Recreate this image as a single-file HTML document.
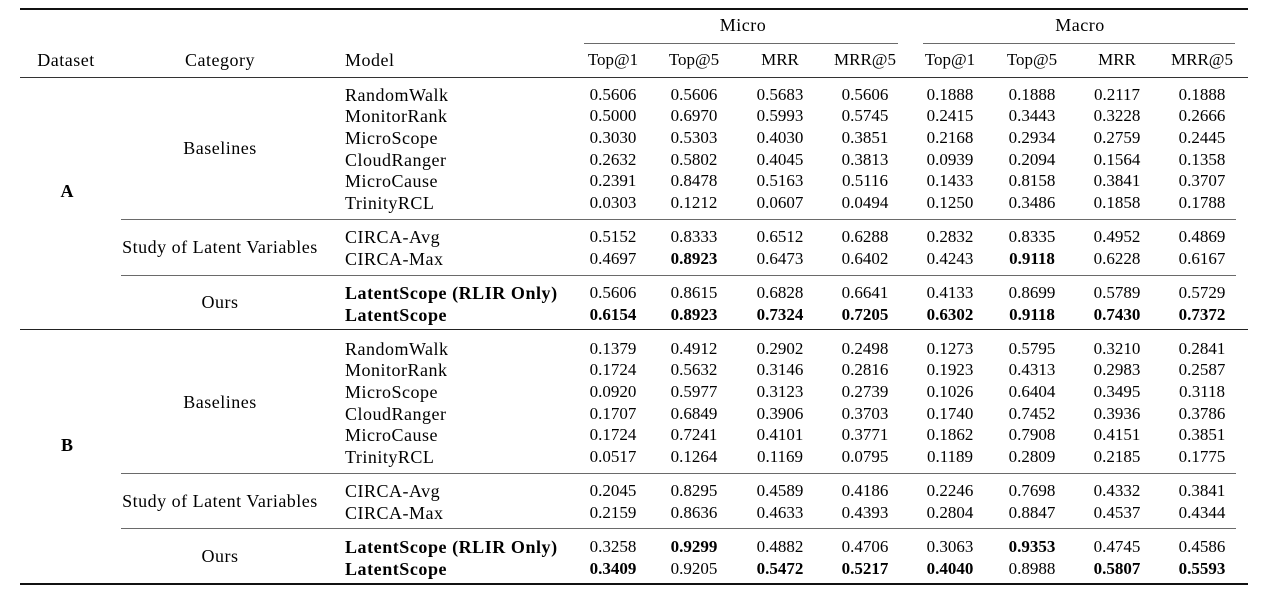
<!DOCTYPE html>
<html>
<head>
<meta charset="utf-8">
<style>
  html,body{margin:0;padding:0;background:#fff;}
  body{width:1280px;height:597px;position:relative;overflow:hidden;
       font-family:"Liberation Serif",serif;font-size:17px;color:#000;}
  .ln{position:absolute;background:#111;}
  .gl{position:absolute;background:#6a6a6a;height:1px;}
  .t{position:absolute;height:22px;line-height:22px;white-space:nowrap;}
  .lbl{letter-spacing:.5px;font-size:18px;}
  .r{position:absolute;left:0;width:1280px;height:22px;line-height:22px;}
  .r span{position:absolute;top:0;width:80px;text-align:center;white-space:nowrap;}
  .r span.m{left:345px;width:auto;text-align:left;letter-spacing:.5px;font-size:18px;}
  .r span.m.b{letter-spacing:.55px;}
  .b{font-weight:bold;}
  .c1{left:573px}.c2{left:654px}.c3{left:740px}.c4{left:825px}
  .c5{left:910px}.c6{left:992px}.c7{left:1077px}.c8{left:1162px}
  .ctr{text-align:center;}
</style>
</head>
<body>
<!-- rules -->
<div class="ln" style="left:20px;top:8px;width:1228px;height:2px;"></div>
<div class="gl" style="left:584px;top:43px;width:314px;"></div>
<div class="gl" style="left:923px;top:43px;width:312px;"></div>
<div class="ln" style="left:20px;top:76.5px;width:1228px;height:1.3px;background:#333;"></div>
<div class="gl" style="left:121px;top:219px;width:1115px;"></div>
<div class="gl" style="left:121px;top:275px;width:1115px;"></div>
<div class="ln" style="left:20px;top:328.5px;width:1228px;height:1.5px;background:#222;"></div>
<div class="gl" style="left:121px;top:473px;width:1115px;"></div>
<div class="gl" style="left:121px;top:528px;width:1115px;"></div>
<div class="ln" style="left:20px;top:583px;width:1228px;height:2px;"></div>

<!-- header -->
<div class="t lbl ctr" style="left:683px;width:120px;top:14px;">Micro</div>
<div class="t lbl ctr" style="left:1020px;width:120px;top:14px;">Macro</div>
<div class="t lbl ctr" style="left:16px;width:100px;top:49px;">Dataset</div>
<div class="t lbl ctr" style="left:170px;width:100px;top:49px;">Category</div>
<div class="t lbl" style="left:345px;top:49px;">Model</div>
<div class="r" style="top:49px;">
  <span class="c1">Top@1</span><span class="c2">Top@5</span><span class="c3">MRR</span><span class="c4">MRR@5</span>
  <span class="c5">Top@1</span><span class="c6">Top@5</span><span class="c7">MRR</span><span class="c8">MRR@5</span>
</div>

<!-- group labels A -->
<div class="t b ctr" style="left:27px;width:80px;top:180px;font-size:18px;">A</div>
<div class="t lbl ctr" style="left:120px;width:200px;top:137px;">Baselines</div>
<div class="t lbl ctr" style="left:100px;width:240px;top:236px;">Study of Latent Variables</div>
<div class="t lbl ctr" style="left:170px;width:100px;top:291px;">Ours</div>

<!-- group labels B -->
<div class="t b ctr" style="left:27px;width:80px;top:434px;font-size:18px;">B</div>
<div class="t lbl ctr" style="left:120px;width:200px;top:391px;">Baselines</div>
<div class="t lbl ctr" style="left:100px;width:240px;top:490px;">Study of Latent Variables</div>
<div class="t lbl ctr" style="left:170px;width:100px;top:545px;">Ours</div>

<!-- A rows -->
<div class="r" style="top:83.5px;"><span class="m">RandomWalk</span><span class="c1">0.5606</span><span class="c2">0.5606</span><span class="c3">0.5683</span><span class="c4">0.5606</span><span class="c5">0.1888</span><span class="c6">0.1888</span><span class="c7">0.2117</span><span class="c8">0.1888</span></div>
<div class="r" style="top:105.2px;"><span class="m">MonitorRank</span><span class="c1">0.5000</span><span class="c2">0.6970</span><span class="c3">0.5993</span><span class="c4">0.5745</span><span class="c5">0.2415</span><span class="c6">0.3443</span><span class="c7">0.3228</span><span class="c8">0.2666</span></div>
<div class="r" style="top:126.9px;"><span class="m">MicroScope</span><span class="c1">0.3030</span><span class="c2">0.5303</span><span class="c3">0.4030</span><span class="c4">0.3851</span><span class="c5">0.2168</span><span class="c6">0.2934</span><span class="c7">0.2759</span><span class="c8">0.2445</span></div>
<div class="r" style="top:148.6px;"><span class="m">CloudRanger</span><span class="c1">0.2632</span><span class="c2">0.5802</span><span class="c3">0.4045</span><span class="c4">0.3813</span><span class="c5">0.0939</span><span class="c6">0.2094</span><span class="c7">0.1564</span><span class="c8">0.1358</span></div>
<div class="r" style="top:170.3px;"><span class="m">MicroCause</span><span class="c1">0.2391</span><span class="c2">0.8478</span><span class="c3">0.5163</span><span class="c4">0.5116</span><span class="c5">0.1433</span><span class="c6">0.8158</span><span class="c7">0.3841</span><span class="c8">0.3707</span></div>
<div class="r" style="top:192px;"><span class="m">TrinityRCL</span><span class="c1">0.0303</span><span class="c2">0.1212</span><span class="c3">0.0607</span><span class="c4">0.0494</span><span class="c5">0.1250</span><span class="c6">0.3486</span><span class="c7">0.1858</span><span class="c8">0.1788</span></div>
<div class="r" style="top:226px;"><span class="m">CIRCA-Avg</span><span class="c1">0.5152</span><span class="c2">0.8333</span><span class="c3">0.6512</span><span class="c4">0.6288</span><span class="c5">0.2832</span><span class="c6">0.8335</span><span class="c7">0.4952</span><span class="c8">0.4869</span></div>
<div class="r" style="top:247.5px;"><span class="m">CIRCA-Max</span><span class="c1">0.4697</span><span class="c2 b">0.8923</span><span class="c3">0.6473</span><span class="c4">0.6402</span><span class="c5">0.4243</span><span class="c6 b">0.9118</span><span class="c7">0.6228</span><span class="c8">0.6167</span></div>
<div class="r" style="top:282px;"><span class="m b">LatentScope (RLIR Only)</span><span class="c1">0.5606</span><span class="c2">0.8615</span><span class="c3">0.6828</span><span class="c4">0.6641</span><span class="c5">0.4133</span><span class="c6">0.8699</span><span class="c7">0.5789</span><span class="c8">0.5729</span></div>
<div class="r" style="top:303.5px;"><span class="m b">LatentScope</span><span class="c1 b">0.6154</span><span class="c2 b">0.8923</span><span class="c3 b">0.7324</span><span class="c4 b">0.7205</span><span class="c5 b">0.6302</span><span class="c6 b">0.9118</span><span class="c7 b">0.7430</span><span class="c8 b">0.7372</span></div>

<!-- B rows -->
<div class="r" style="top:337.5px;"><span class="m">RandomWalk</span><span class="c1">0.1379</span><span class="c2">0.4912</span><span class="c3">0.2902</span><span class="c4">0.2498</span><span class="c5">0.1273</span><span class="c6">0.5795</span><span class="c7">0.3210</span><span class="c8">0.2841</span></div>
<div class="r" style="top:359.2px;"><span class="m">MonitorRank</span><span class="c1">0.1724</span><span class="c2">0.5632</span><span class="c3">0.3146</span><span class="c4">0.2816</span><span class="c5">0.1923</span><span class="c6">0.4313</span><span class="c7">0.2983</span><span class="c8">0.2587</span></div>
<div class="r" style="top:380.9px;"><span class="m">MicroScope</span><span class="c1">0.0920</span><span class="c2">0.5977</span><span class="c3">0.3123</span><span class="c4">0.2739</span><span class="c5">0.1026</span><span class="c6">0.6404</span><span class="c7">0.3495</span><span class="c8">0.3118</span></div>
<div class="r" style="top:402.6px;"><span class="m">CloudRanger</span><span class="c1">0.1707</span><span class="c2">0.6849</span><span class="c3">0.3906</span><span class="c4">0.3703</span><span class="c5">0.1740</span><span class="c6">0.7452</span><span class="c7">0.3936</span><span class="c8">0.3786</span></div>
<div class="r" style="top:424.3px;"><span class="m">MicroCause</span><span class="c1">0.1724</span><span class="c2">0.7241</span><span class="c3">0.4101</span><span class="c4">0.3771</span><span class="c5">0.1862</span><span class="c6">0.7908</span><span class="c7">0.4151</span><span class="c8">0.3851</span></div>
<div class="r" style="top:446px;"><span class="m">TrinityRCL</span><span class="c1">0.0517</span><span class="c2">0.1264</span><span class="c3">0.1169</span><span class="c4">0.0795</span><span class="c5">0.1189</span><span class="c6">0.2809</span><span class="c7">0.2185</span><span class="c8">0.1775</span></div>
<div class="r" style="top:480px;"><span class="m">CIRCA-Avg</span><span class="c1">0.2045</span><span class="c2">0.8295</span><span class="c3">0.4589</span><span class="c4">0.4186</span><span class="c5">0.2246</span><span class="c6">0.7698</span><span class="c7">0.4332</span><span class="c8">0.3841</span></div>
<div class="r" style="top:501.5px;"><span class="m">CIRCA-Max</span><span class="c1">0.2159</span><span class="c2">0.8636</span><span class="c3">0.4633</span><span class="c4">0.4393</span><span class="c5">0.2804</span><span class="c6">0.8847</span><span class="c7">0.4537</span><span class="c8">0.4344</span></div>
<div class="r" style="top:536px;"><span class="m b">LatentScope (RLIR Only)</span><span class="c1">0.3258</span><span class="c2 b">0.9299</span><span class="c3">0.4882</span><span class="c4">0.4706</span><span class="c5">0.3063</span><span class="c6 b">0.9353</span><span class="c7">0.4745</span><span class="c8">0.4586</span></div>
<div class="r" style="top:557.5px;"><span class="m b">LatentScope</span><span class="c1 b">0.3409</span><span class="c2">0.9205</span><span class="c3 b">0.5472</span><span class="c4 b">0.5217</span><span class="c5 b">0.4040</span><span class="c6">0.8988</span><span class="c7 b">0.5807</span><span class="c8 b">0.5593</span></div>
</body>
</html>
